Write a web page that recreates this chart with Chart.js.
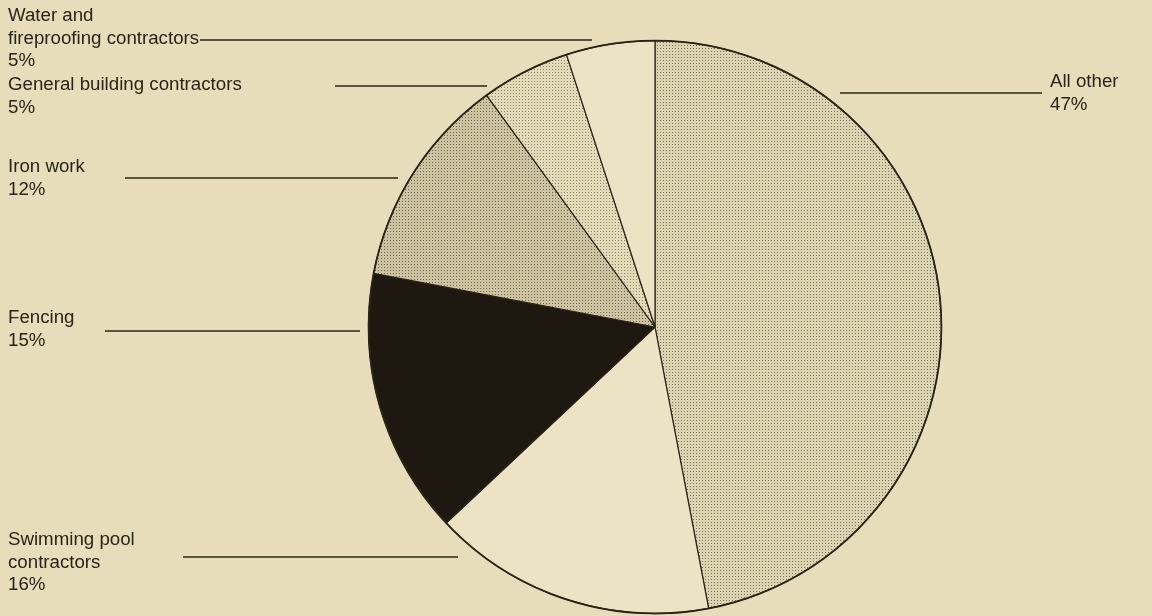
<!DOCTYPE html>
<html>
<head>
<meta charset="utf-8">
<script src="https://cdn.jsdelivr.net/npm/chart.js@4"></script>
<style>
  html, body { margin: 0; padding: 0; background: #e7ddba; }
  #wrap { width: 1152px; height: 616px; position: relative; }
</style>
</head>
<body>
<div id="wrap"><canvas id="c" width="1152" height="616"></canvas></div>
<script>
// ---- data ----
const categories = ['All other', 'Swimming pool contractors', 'Fencing', 'Iron work', 'General building contractors', 'Water and fireproofing contractors'];
const shares = [47, 16, 15, 12, 5, 5];
const labelLines = [['All other'], ['Swimming pool', 'contractors'], ['Fencing'], ['Iron work'], ['General building contractors'], ['Water and', 'fireproofing contractors']];

// ---- layout (positions of annotation text and leader lines) ----
const labelLayout = [
  { x: 1050, y: 82,  lineY: 93,  x1: 840, x2: 1042 },
  { x: 8,    y: 540, lineY: 557, x1: 183, x2: 458 },
  { x: 8,    y: 318, lineY: 331, x1: 105, x2: 360 },
  { x: 8,    y: 167, lineY: 178, x1: 125, x2: 398 },
  { x: 8,    y: 85,  lineY: 86,  x1: 335, x2: 487 },
  { x: 8,    y: 16,  lineY: 40,  x1: 200, x2: 592 }
];
const LINE_GAP = 22.6;
const INK = '#2a2418';
const FONT = '18.7px "Liberation Sans", Arial, sans-serif';

function dotPattern(base, dot, step, size) {
  const c = document.createElement('canvas');
  c.width = step; c.height = step;
  const g = c.getContext('2d');
  g.fillStyle = base; g.fillRect(0, 0, step, step);
  g.fillStyle = dot; g.fillRect(0, 0, size, size);
  return g.createPattern(c, 'repeat');
}
const ctx = document.getElementById('c').getContext('2d');
const fills = [
  dotPattern('#dcd3b0', '#7a735f', 3, 1),   // All other
  '#ebe3c4',                                // Swimming pool
  '#1f1810',                                // Fencing
  dotPattern('#cdc3a0', '#6f6854', 3, 1),   // Iron work
  dotPattern('#e3dab8', '#8f8770', 3, 1),   // General building
  '#ebe3c4'                                 // Water and fireproofing
];

const labelPlugin = {
  id: 'labels',
  afterDraw(chart) {
    const g = chart.ctx;
    g.save();
    g.font = FONT;
    g.fillStyle = INK;
    g.strokeStyle = INK;
    g.lineWidth = 1.6;
    g.textBaseline = 'middle';
    g.textAlign = 'left';
    labelLayout.forEach((L, i) => {
      const lines = labelLines[i].concat([shares[i] + '%']);
      lines.forEach((t, k) => g.fillText(t, L.x, L.y + k * LINE_GAP));
      g.beginPath();
      g.moveTo(L.x1, L.lineY);
      g.lineTo(L.x2, L.lineY);
      g.stroke();
    });
    // outer outline
    const arc = chart.getDatasetMeta(0).data[0];
    g.beginPath();
    g.lineWidth = 1.8;
    g.arc(arc.x, arc.y, arc.outerRadius, 0, Math.PI * 2);
    g.stroke();
    g.restore();
  }
};

new Chart(ctx, {
  type: 'pie',
  data: {
    labels: categories,
    datasets: [{
      data: shares,
      backgroundColor: fills,
      borderColor: INK,
      borderWidth: 1.2,
      hoverOffset: 0
    }]
  },
  options: {
    responsive: false,
    animation: false,
    layout: { padding: { left: 158, right: 0, top: 40, bottom: 2 } },
    plugins: { legend: { display: false }, tooltip: { enabled: false } }
  },
  plugins: [labelPlugin]
});
</script>
</body>
</html>
